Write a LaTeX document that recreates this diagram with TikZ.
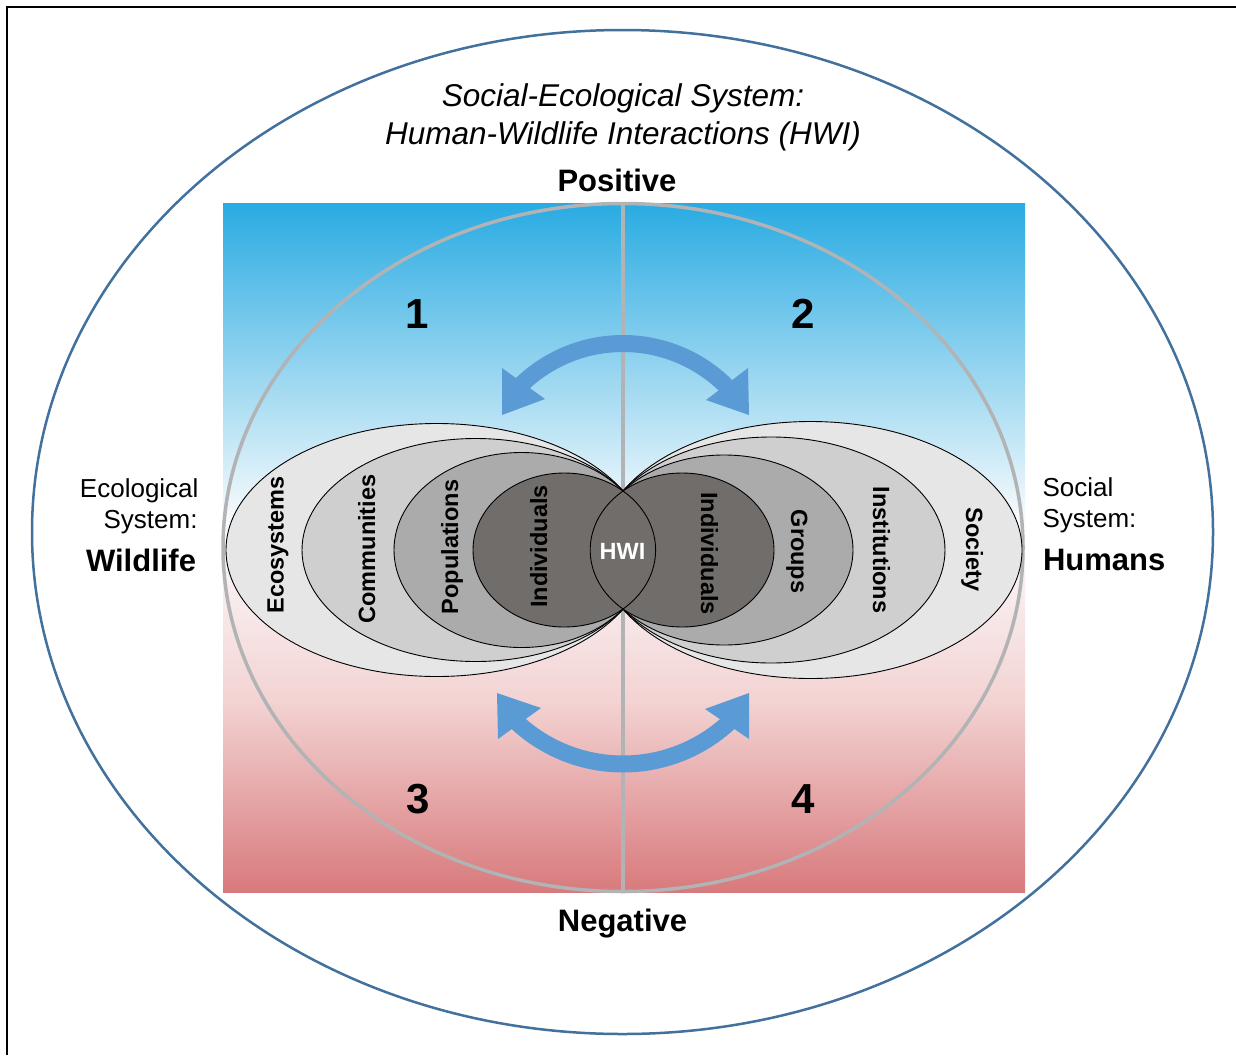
\documentclass[tikz,border=0pt]{standalone}
\usepackage{fontspec}
\setmainfont{Liberation Sans}
\definecolor{skytop}{RGB}{41,171,226}
\definecolor{haze}{RGB}{252,252,253}
\definecolor{blush}{RGB}{243,211,211}
\definecolor{rosebot}{RGB}{216,122,124}
\definecolor{steel}{RGB}{65,113,156}
\definecolor{divgray}{RGB}{178,179,181}
\definecolor{swingblue}{RGB}{91,155,213}
\definecolor{ringA}{RGB}{230,230,230}
\definecolor{ringB}{RGB}{208,207,207}
\definecolor{ringC}{RGB}{172,171,171}
\definecolor{ringD}{RGB}{113,109,107}
% sky-to-rose background: positions run bottom (0bp) to top (100bp),
% the 25bp..75bp band is stretched over the filled rectangle
\pgfdeclareverticalshading{skyrose}{100bp}{color(0bp)=(rosebot); color(25bp)=(rosebot); color(38.9bp)=(blush); color(51.6bp)=(haze); color(75bp)=(skytop); color(100bp)=(skytop)}
\begin{document}
\begin{tikzpicture}[x=1pt,y=-1pt,
  every node/.style={inner sep=0pt, outer sep=0pt},
  ring/.style={draw=black, line width=0.9pt},
  divider/.style={draw=divgray, line width=3.5pt},
  swing/.style={draw=swingblue, line width=17pt},
  head/.style={fill=swingblue},
  heading/.style={font=\fontsize{31.5}{36}\selectfont\itshape},
  pole/.style={font=\fontsize{31}{34}\selectfont\bfseries},
  tier/.style={font=\fontsize{23.5}{26}\selectfont\bfseries},
  side/.style={font=\fontsize{26}{28}\selectfont},
  sidebold/.style={font=\fontsize{31}{34}\selectfont\bfseries},
  quad/.style={font=\fontsize{42}{44}\selectfont\bfseries},
]
\useasboundingbox (0,0) rectangle (1236,1055);
\fill[white] (0,0) rectangle (1236,1055);

% frame
\draw[line width=1.5pt] (7,1055) -- (7,7) -- (1236,7);

% social-ecological system boundary
\draw[draw=steel, line width=2.5pt] (622.5,532) ellipse [x radius=590.5pt, y radius=502pt];

% positive/negative background
\shade[shading=skyrose] (223,203) rectangle (1025,892);

% quadrant ellipse and axis
\draw[divider] (623,547.5) ellipse [x radius=400pt, y radius=344pt];
\draw[divider] (623,203) -- (623,892);

% feedback arrows
\draw[swing] plot[domain=225:315, samples=60] ({623+146.5*cos(\x)}, {490+146.5*sin(\x)});
\fill[head] (502,415) -- (502,368) -- (545,399) -- cycle;
\fill[head] (749,415) -- (748,368) -- (706,400) -- cycle;
\draw[swing] plot[domain=46:134, samples=60] ({623+156*cos(\x)}, {608+156*sin(\x)});
\fill[head] (497,693) -- (541,708) -- (498,739) -- cycle;
\fill[head] (749,693) -- (705,709) -- (749,739) -- cycle;

% ecological levels
\draw[ring, fill=ringA] (436.7,550) ellipse [x radius=210.7pt, y radius=126.5pt];
\draw[ring, fill=ringB] (475.7,550) ellipse [x radius=173.7pt, y radius=111.5pt];
\draw[ring, fill=ringC] (521.5,550) ellipse [x radius=127.5pt, y radius=97.5pt];
% social levels
\draw[ring, fill=ringA] (810.7,550) ellipse [x radius=211.3pt, y radius=128.5pt];
\draw[ring, fill=ringB] (771.2,550) ellipse [x radius=173.8pt, y radius=113pt];
\draw[ring, fill=ringC] (724.1,550) ellipse [x radius=128.9pt, y radius=95pt];
% individuals on both sides, overlapping in HWI
\fill[ringD] (564.3,550) ellipse [x radius=91.3pt, y radius=77pt];
\fill[ringD] (682.1,550) ellipse [x radius=91.9pt, y radius=77pt];
\draw[ring] (564.3,550) ellipse [x radius=91.3pt, y radius=77pt];
\draw[ring] (682.1,550) ellipse [x radius=91.9pt, y radius=77pt];

% level labels
\node[tier, rotate=90, anchor=base] (ecosys) at (283.5,545) {Ecosystems};
\node[tier, rotate=90, anchor=base] (commun) at (375,549) {Communities};
\node[tier, rotate=90, anchor=base] (popul) at (458,547) {Populations};
\node[tier, rotate=90, anchor=base] (indwild) at (547,546.5) {Individuals};
\node[tier, rotate=-90, anchor=base] (indhum) at (701,553.5) {Individuals};
\node[tier, rotate=-90, anchor=base] (groups) at (791,551.5) {Groups};
\node[tier, rotate=-90, anchor=base] (instit) at (873,550) {Institutions};
\node[tier, rotate=-90, anchor=base] (society) at (966,549.5) {Society};
\node[tier, text=white, anchor=base] (hwi) at (622.5,559) {HWI};

% quadrant numbers
\node[quad, anchor=base] (q1) at (417,328.5) {1};
\node[quad, anchor=base] (q2) at (803,328.5) {2};
\node[quad, anchor=base] (q3) at (418,813) {3};
\node[quad, anchor=base] (q4) at (803.5,813) {4};

% titles and poles
\node[heading, anchor=base] (title1) at (623,106) {Social-Ecological System:};
\node[heading, anchor=base] (title2) at (623,144) {Human-Wildlife Interactions (HWI)};
\node[pole, anchor=base] (positive) at (617,191.5) {Positive};
\node[pole, anchor=base] (negative) at (622.5,931) {Negative};

% system labels
\node[side, anchor=base east] (ecol1) at (198.5,497) {Ecological};
\node[side, anchor=base east] (ecol2) at (197.5,528) {System:};
\node[sidebold, anchor=base east] (wild) at (196,571) {Wildlife};
\node[side, anchor=base west] (soc1) at (1042.5,496) {Social};
\node[side, anchor=base west] (soc2) at (1042.5,527) {System:};
\node[sidebold, anchor=base west] (hum) at (1043,570) {Humans};
\end{tikzpicture}
\end{document}
